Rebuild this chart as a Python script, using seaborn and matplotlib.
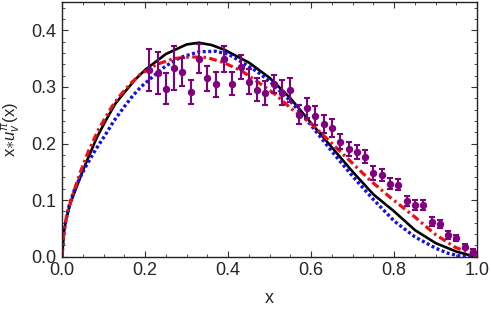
import numpy as np
import pandas as pd
import matplotlib
matplotlib.use("Agg")
import matplotlib.pyplot as plt
from matplotlib.ticker import MultipleLocator
import seaborn as sns

# -------------------------------------------------------
# Data
# -------------------------------------------------------
# black solid curve
black_x = [0.0, 0.005, 0.01, 0.02, 0.05, 0.084, 0.105, 0.128, 0.15, 0.175, 0.2,
           0.25, 0.3, 0.33, 0.36, 0.39, 0.45, 0.5, 0.55, 0.6, 0.65, 0.7, 0.75,
           0.8, 0.85, 0.9, 0.95, 0.98, 1.0]
black_y = [0.0, 0.045, 0.066, 0.094, 0.152, 0.211, 0.240, 0.270, 0.290, 0.312,
           0.330, 0.358, 0.375, 0.378, 0.374, 0.366, 0.343, 0.316, 0.280, 0.236,
           0.193, 0.150, 0.110, 0.080, 0.047, 0.024, 0.009, 0.003, 0.0]

# blue dotted curve
blue_x = [0.0, 0.004, 0.008, 0.016, 0.032, 0.056, 0.08, 0.104, 0.125, 0.15, 0.17,
          0.19, 0.22, 0.25, 0.285, 0.33, 0.37, 0.4, 0.43, 0.47, 0.5, 0.55, 0.6,
          0.65, 0.7, 0.75, 0.8, 0.85, 0.9, 0.93, 0.96, 1.0]
blue_y = [0.0, 0.040, 0.059, 0.088, 0.123, 0.158, 0.188, 0.215, 0.240, 0.265,
          0.284, 0.300, 0.319, 0.337, 0.352, 0.362, 0.363, 0.358, 0.345, 0.327,
          0.310, 0.275, 0.232, 0.186, 0.142, 0.101, 0.063, 0.035, 0.015, 0.006,
          0.001, 0.0]

# red dash-dot curve
red_x = [0.0, 0.004, 0.012, 0.024, 0.044, 0.064, 0.088, 0.12, 0.14, 0.164, 0.188,
         0.229, 0.269, 0.309, 0.349, 0.389, 0.433, 0.473, 0.513, 0.553, 0.597,
         0.646, 0.694, 0.742, 0.79, 0.814, 0.85, 0.898, 0.946, 0.99, 1.0]
red_y = [0.0, 0.041, 0.076, 0.105, 0.149, 0.187, 0.225, 0.265, 0.285, 0.305,
         0.322, 0.340, 0.350, 0.353, 0.352, 0.343, 0.328, 0.308, 0.287, 0.261,
         0.237, 0.203, 0.169, 0.135, 0.105, 0.091, 0.070, 0.040, 0.017, 0.004, 0.0]

# purple data points with error bars
pts_x = [0.21, 0.23, 0.25, 0.27, 0.29, 0.31, 0.33, 0.35, 0.37, 0.39,
         0.41, 0.43, 0.45, 0.47, 0.49, 0.51, 0.53, 0.55, 0.57, 0.59,
         0.61, 0.63, 0.65, 0.67, 0.69, 0.71, 0.73, 0.75, 0.77, 0.79,
         0.81, 0.83, 0.85, 0.87, 0.89, 0.91, 0.93, 0.95, 0.97, 0.99]
pts_y = [0.330, 0.324, 0.297, 0.334, 0.326, 0.291, 0.350, 0.315, 0.305, 0.350,
         0.306, 0.335, 0.309, 0.295, 0.289, 0.305, 0.290, 0.294, 0.251, 0.263,
         0.249, 0.234, 0.228, 0.203, 0.190, 0.185, 0.177, 0.148, 0.144, 0.129,
         0.127, 0.098, 0.091, 0.091, 0.062, 0.057, 0.038, 0.033, 0.018, 0.009]
pts_err = [0.037, 0.037, 0.027, 0.039, 0.025, 0.022, 0.025, 0.022, 0.022, 0.023,
           0.021, 0.021, 0.022, 0.020, 0.021, 0.016, 0.022, 0.021, 0.017, 0.018,
           0.017, 0.016, 0.016, 0.013, 0.012, 0.012, 0.012, 0.012, 0.011, 0.010,
           0.010, 0.009, 0.009, 0.009, 0.008, 0.007, 0.007, 0.006, 0.005, 0.004]

# -------------------------------------------------------
# Style
# -------------------------------------------------------
sns.set_style("ticks")
plt.rcParams['font.family'] = ['Liberation Sans', 'DejaVu Sans']
plt.rcParams['mathtext.fontset'] = 'custom'
plt.rcParams['mathtext.rm'] = 'Liberation Sans'
plt.rcParams['mathtext.it'] = 'Liberation Sans:italic'

fig = plt.figure(figsize=(4.91, 3.15), dpi=100)
ax = fig.add_axes([0.1263, 0.185, 0.972 - 0.1263, 0.9937 - 0.185])

sns.lineplot(x=black_x, y=black_y, ax=ax, color='black', lw=1.9,
             estimator=None, sort=False)
sns.lineplot(x=blue_x, y=blue_y, ax=ax, color='#1010ee', lw=2.4,
             estimator=None, sort=False, linestyle=(0, (0.9, 0.75)),
             dash_capstyle='butt')
sns.lineplot(x=red_x, y=red_y, ax=ax, color='#ee1010', lw=2.3,
             estimator=None, sort=False, linestyle=(0, (2.4, 1.1, 0.8, 1.1)),
             dash_capstyle='butt')

ax.errorbar(pts_x, pts_y, yerr=pts_err, fmt='o', color='#800080', ms=4.3,
            elinewidth=1.5, capsize=2.4, capthick=1.5, zorder=5)

ax.set_xlim(0, 1)
ax.set_ylim(0, 0.45)
ax.xaxis.set_major_locator(MultipleLocator(0.2))
ax.xaxis.set_minor_locator(MultipleLocator(0.05))
ax.yaxis.set_major_locator(MultipleLocator(0.1))
ax.yaxis.set_minor_locator(MultipleLocator(0.02))
ax.xaxis.set_major_formatter(plt.FuncFormatter(lambda v, p: f"{v:.1f}"))
ax.yaxis.set_major_formatter(plt.FuncFormatter(lambda v, p: f"{v:.1f}"))

ax.tick_params(which='both', direction='in', top=True, right=True,
               labelsize=13, color='#333333')
ax.tick_params(which='major', length=4, width=0.8, pad=4)
ax.tick_params(which='minor', length=2.2, width=0.6)
for s in ax.spines.values():
    s.set_linewidth(1.0)
    s.set_color('#222222')

ax.set_xlabel('x', fontsize=13, labelpad=8)
ax.set_ylabel(r'x$\ast$$u_v^{\pi}$(x)', fontsize=12, labelpad=6)

plt.savefig('out.png', dpi=100)
